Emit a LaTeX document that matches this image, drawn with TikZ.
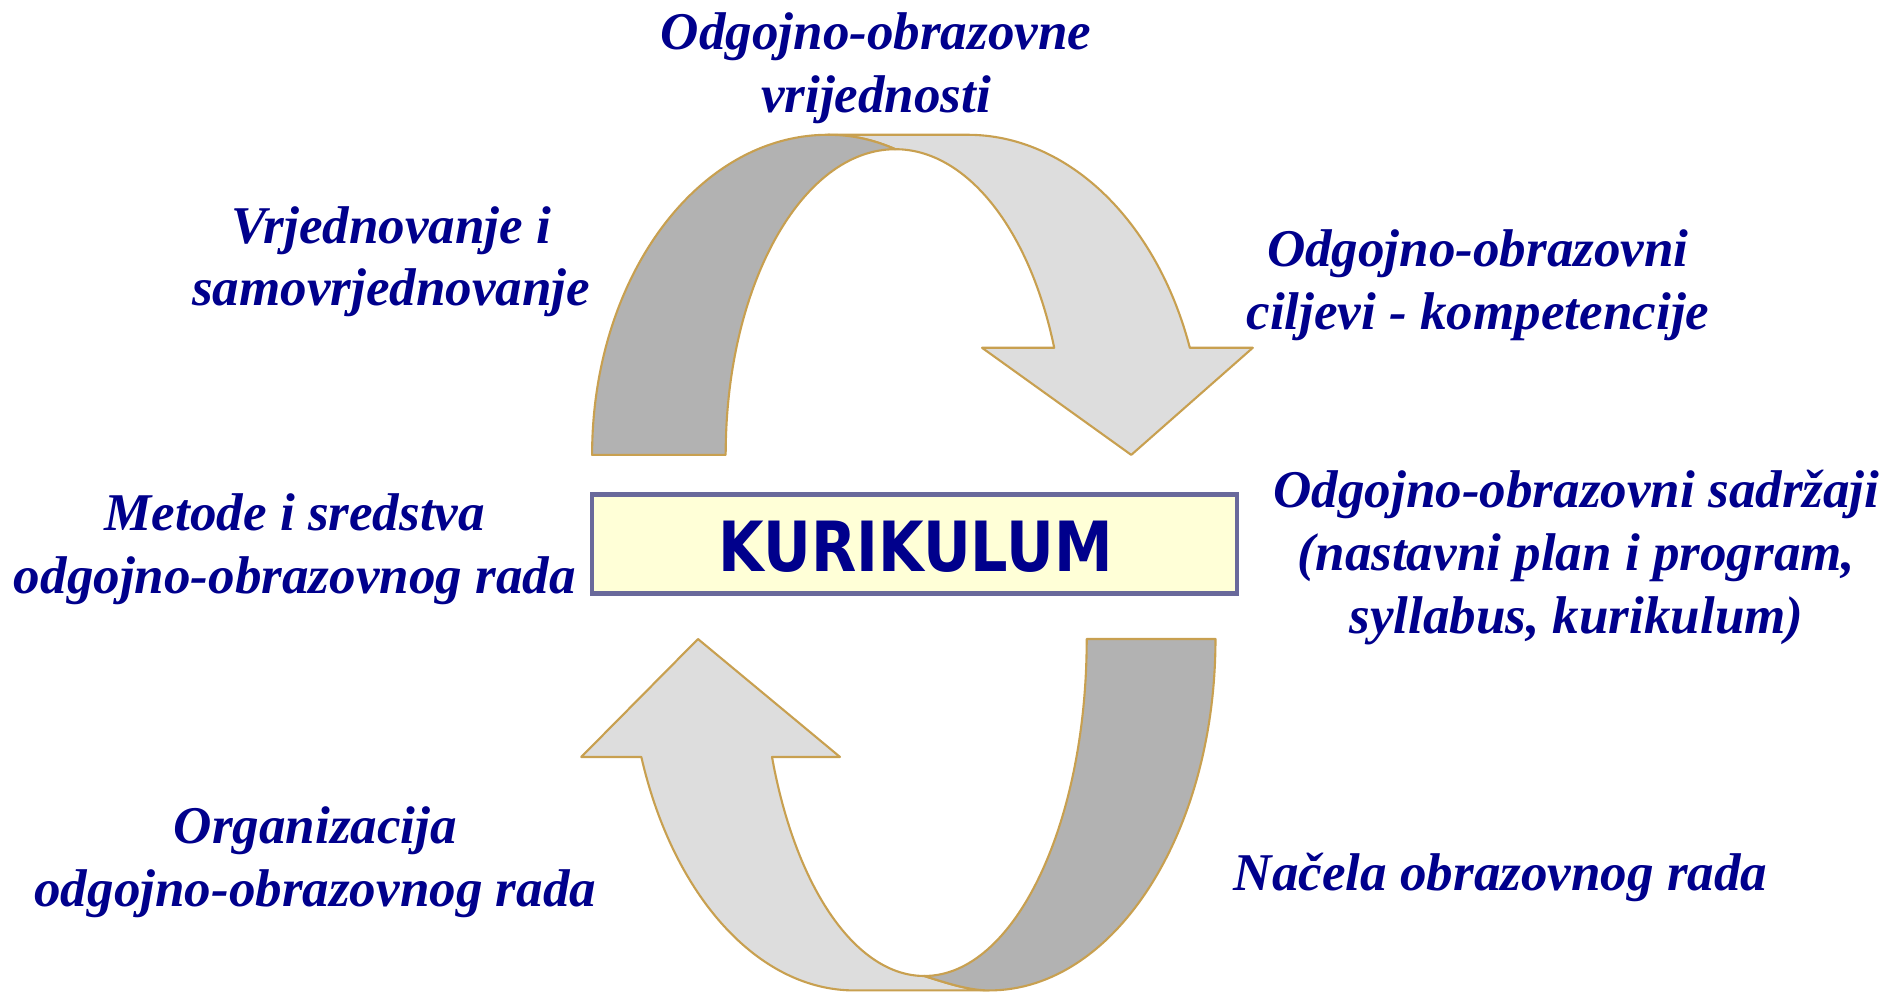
\documentclass[tikz,border=0pt]{standalone}
\usepackage{fontspec}
\setmainfont{Liberation Serif}
\newfontfamily\boxfont[FakeStretch=0.85]{DejaVu Sans}
\usetikzlibrary{positioning}
\definecolor{labelblue}{RGB}{0,0,140}
\definecolor{bandlight}{RGB}{221,221,221}
\definecolor{banddark}{RGB}{178,178,178}
\definecolor{bandline}{RGB}{200,160,80}
\definecolor{boxfill}{RGB}{255,255,215}
\definecolor{boxline}{RGB}{105,105,155}
\def\unitpx{0.12034mm}
\tikzstyle{phase text}=[font=\bfseries\itshape\fontsize{15.1}{17.9}\selectfont, text=labelblue, align=center, inner sep=0pt]
\tikzstyle{band}=[draw=bandline, line width=0.6pt, line join=round]
\tikzstyle{band light}=[band, fill=bandlight]
\tikzstyle{band dark}=[band, fill=banddark]
\tikzstyle{centre box}=[draw=boxline, line width=1.3pt, fill=boxfill, minimum width=6.45cm, minimum height=0.99cm, inner sep=0pt]

\begin{document}
\begin{tikzpicture}[x=\unitpx, y=\unitpx]

			\useasboundingbox (0,0) rectangle (1568,824);

			% Upper arrow: light band with the head
			\draw[band light] (688,712) -- (804,712)
				arc[start angle=90, end angle=19.55, x radius=196, y radius=266]
				-- (1041,535) -- (940,446) -- (816,535) -- (876,535)
				arc[start angle=20.51, end angle=90, x radius=141, y radius=254]
				.. controls (728,707) and (710,712) .. (688,712) -- cycle;

			% Upper arrow: dark band
			\draw[band dark] (492,446)
				arc[start angle=180, end angle=90, x radius=196, y radius=266]
				.. controls (710,712) and (728,707) .. (744,700)
				arc[start angle=90, end angle=180, x radius=141, y radius=254] -- cycle;

			% Lower arrow: light band with the head
			\draw[band light] (822,1) -- (710,1)
				arc[start angle=270, end angle=199.61, x radius=188, y radius=292]
				-- (483,195) -- (580,293) -- (698,195) -- (641.5,195)
				arc[start angle=200.49, end angle=270, x radius=135, y radius=280]
				.. controls (787,7) and (805,1) .. (822,1) -- cycle;

			% Lower arrow: dark band
			\draw[band dark] (822,1)
				arc[start angle=270, end angle=360, x radius=188, y radius=292]
				-- (903,293)
				arc[start angle=0, end angle=-90, x radius=135, y radius=280]
				.. controls (787,7) and (805,1) .. (822,1) -- cycle;

			% The centre box
			\node[centre box] (kurikulum) at (760,372) {};
			\node[font=\boxfont\bfseries\fontsize{19.7}{22}\selectfont, text=labelblue] (kurikulum-text) at (761,370) {KURIKULUM};

			% Annotate the phases
			\node[phase text] (vrijednosti) at (728,767) {Odgojno-obrazovne\\vrijednosti};
			\node[phase text] (ciljevi) at (1228,587) {Odgojno-obrazovni\\ciljevi - kompetencije};
			\node[phase text] (sadrzaji) at (1310,361) {Odgojno-obrazovni sadržaji\\(nastavni plan i program,\\syllabus, kurikulum)};
			\node[phase text] (nacela) at (1247,95) {Načela obrazovnog rada};
			\node[phase text] (organizacija) at (262,107.5) {Organizacija\\odgojno-obrazovnog rada};
			\node[phase text] (metode) at (245,367.5) {Metode i sredstva\\odgojno-obrazovnog rada};
			\node[phase text] (vrjednovanje) at (325,606.5) {Vrjednovanje i\\samovrjednovanje};
		\end{tikzpicture}
\end{document}
